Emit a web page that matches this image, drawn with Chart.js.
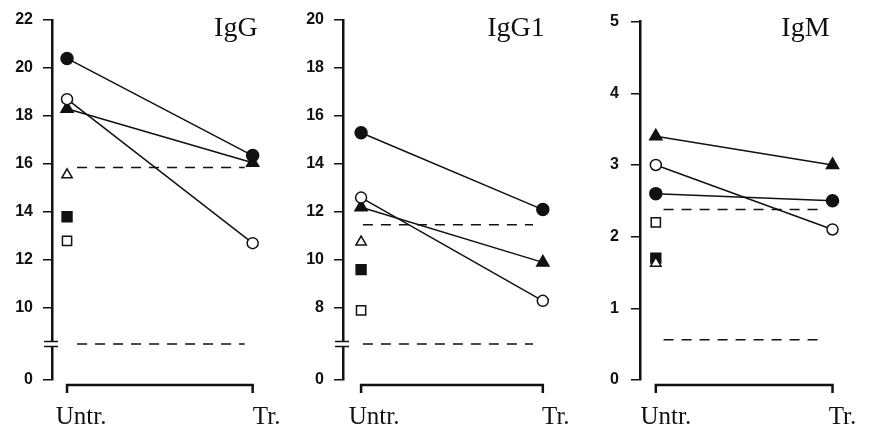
<!DOCTYPE html>
<html>
<head>
<meta charset="utf-8">
<script src="https://cdn.jsdelivr.net/npm/chart.js@4/dist/chart.umd.min.js"></script>
<style>
  html, body { margin: 0; padding: 0; background: #fff; }
  #wrap { position: relative; width: 869px; height: 432px; }
  canvas { position: absolute; top: 0; }
</style>
</head>
<body>
<div id="wrap">
  <canvas id="igg" width="290" height="432" style="left:0"></canvas>
  <canvas id="igg1" width="290" height="432" style="left:290px"></canvas>
  <canvas id="igm" width="289" height="432" style="left:580px"></canvas>
</div>
<script>
// categories
const xPositions = [0, 1];
const xLabels = ['Untr.', 'Tr.'];
const panelTitles = ['IgG', 'IgG1', 'IgM'];

// IgG (axis broken below 10, so the "0" tick sits at 7)
const iggFilledCircle = [20.4, 16.35];
const iggOpenCircle = [18.7, 12.7];
const iggFilledTriangle = [18.3, 16.05];
const iggOpenTriangle = [15.55];
const iggFilledSquare = [13.8];
const iggOpenSquare = [12.8];
const iggRefUpper = 15.85;
const iggRefLower = 8.5;
const iggRefSpan = [0.054, 0.957];
const iggTickValues = [7, 10, 12, 14, 16, 18, 20, 22];
const iggTickLabels = ['0', '10', '12', '14', '16', '18', '20', '22'];
const iggBreak = 8.5;

// IgG1 (axis broken below 8, "0" tick sits at 5)
const igg1FilledCircle = [15.3, 12.1];
const igg1OpenCircle = [12.6, 8.3];
const igg1FilledTriangle = [12.2, 9.9];
const igg1OpenTriangle = [10.75];
const igg1FilledSquare = [9.6];
const igg1OpenSquare = [7.9];
const igg1RefUpper = 11.47;
const igg1RefLower = 6.5;
const igg1RefSpan = [0.01, 0.946];
const igg1TickValues = [5, 8, 10, 12, 14, 16, 18, 20];
const igg1TickLabels = ['0', '8', '10', '12', '14', '16', '18', '20'];
const igg1Break = 6.5;

// IgM
const igmFilledTriangle = [3.4, 3.0];
const igmOpenCircle = [3.0, 2.1];
const igmFilledCircle = [2.6, 2.5];
const igmOpenSquare = [2.2];
const igmFilledSquare = [1.7];
const igmOpenTriangle = [1.63];
const igmRefUpper = 2.38;
const igmRefLower = 0.56;
const igmRefSpan = [0.044, 0.944];
const igmTickValues = [0, 1, 2, 3, 4, 5];
const igmTickLabels = ['0', '1', '2', '3', '4', '5'];

const ink = '#111';

function pts(values) {
  return values.map((v, i) => ({ x: xPositions[i], y: v }));
}

function series(values, style, filled, radius) {
  return {
    data: pts(values),
    showLine: values.length > 1,
    borderColor: ink,
    borderWidth: 1.5,
    pointStyle: style,
    pointRadius: radius,
    pointBackgroundColor: filled ? ink : '#fff',
    pointBorderColor: ink,
    pointBorderWidth: 1.5
  };
}

function refLine(value, span) {
  return {
    data: span.map(x => ({ x, y: value })),
    showLine: true,
    borderColor: ink,
    borderWidth: 1.5,
    borderDash: [10, 8],
    pointRadius: 0
  };
}

const axisDecor = {
  id: 'axisDecor',
  afterDraw(chart, args, opts) {
    const { ctx, chartArea, scales: { x, y } } = chart;
    const x0 = x.getPixelForValue(xPositions[0]);
    const x1 = x.getPixelForValue(xPositions[xPositions.length - 1]);
    ctx.save();
    ctx.strokeStyle = ink;

    // bracket under the two groups
    const by = chartArea.bottom + 5;
    ctx.lineWidth = 2.5;
    ctx.beginPath();
    ctx.moveTo(x0, by + 8);
    ctx.lineTo(x0, by);
    ctx.lineTo(x1, by);
    ctx.lineTo(x1, by + 8);
    ctx.stroke();

    // axis break
    if (opts.breakAt != null) {
      const py = y.getPixelForValue(opts.breakAt);
      const ax = chartArea.left;
      ctx.fillStyle = '#fff';
      ctx.fillRect(ax - 3, py - 2, 6, 4);
      ctx.lineWidth = 1.5;
      ctx.beginPath();
      ctx.moveTo(ax - 8, py - 2.5); ctx.lineTo(ax + 6, py - 2.5);
      ctx.moveTo(ax - 8, py + 2.5); ctx.lineTo(ax + 6, py + 2.5);
      ctx.stroke();
    }

    // panel title
    ctx.fillStyle = ink;
    ctx.font = '28px "Liberation Serif", "Times New Roman", serif';
    ctx.textAlign = 'right';
    ctx.textBaseline = 'alphabetic';
    ctx.fillText(opts.title, x1 + opts.titleDx, 36);
    ctx.restore();
  }
};

function makePanel(id, cfg) {
  const datasets = [
    series(cfg.filledCircle, 'circle', true, 6),
    series(cfg.openCircle, 'circle', false, 5.5),
    series(cfg.filledTriangle, 'triangle', true, 7),
    series(cfg.openTriangle, 'triangle', false, 6),
    series(cfg.filledSquare, 'rect', true, 7),
    series(cfg.openSquare, 'rect', false, 6.5),
    refLine(cfg.refUpper, cfg.refSpan),
    refLine(cfg.refLower, cfg.refSpan)
  ];

  return new Chart(document.getElementById(id), {
    type: 'scatter',
    data: { datasets },
    plugins: [axisDecor],
    options: {
      responsive: false,
      animation: false,
      layout: { padding: { top: 20, right: cfg.padRight, bottom: 0, left: 0 } },
      plugins: {
        legend: { display: false },
        tooltip: { enabled: false },
        axisDecor: { breakAt: cfg.breakAt, title: cfg.title, titleDx: cfg.titleDx }
      },
      scales: {
        x: {
          type: 'linear',
          min: cfg.xMin,
          max: cfg.xMax,
          afterBuildTicks: s => { s.ticks = xPositions.map(v => ({ value: v })); },
          afterFit: s => { s.height = 52; },
          ticks: {
            color: ink,
            font: { family: '"Liberation Serif", "Times New Roman", serif', size: 25 },
            padding: 22,
            labelOffset: cfg.labelOffset,
            maxRotation: 0,
            autoSkip: false,
            callback: (v, i) => xLabels[i]
          },
          grid: { display: false, drawTicks: false },
          border: { display: false }
        },
        y: {
          min: cfg.tickValues[0],
          max: cfg.tickValues[cfg.tickValues.length - 1],
          afterBuildTicks: s => { s.ticks = cfg.tickValues.map(v => ({ value: v })); },
          afterFit: s => { s.width = cfg.axisWidth; },
          ticks: {
            color: ink,
            font: { family: '"Liberation Sans", Arial, sans-serif', size: 16, weight: 'bold' },
            padding: cfg.tickPad,
            autoSkip: false,
            callback: (v, i) => cfg.tickLabels[i]
          },
          grid: { drawOnChartArea: false, drawTicks: true, tickLength: 9, color: ink, lineWidth: 1.5 },
          border: { display: true, color: ink, width: 2.5 }
        }
      }
    }
  });
}

makePanel('igg', {
  title: panelTitles[0], titleDx: 5,
  filledCircle: iggFilledCircle, openCircle: iggOpenCircle,
  filledTriangle: iggFilledTriangle, openTriangle: iggOpenTriangle,
  filledSquare: iggFilledSquare, openSquare: iggOpenSquare,
  refUpper: iggRefUpper, refLower: iggRefLower, refSpan: iggRefSpan,
  tickValues: iggTickValues, tickLabels: iggTickLabels, breakAt: iggBreak,
  axisWidth: 52, tickPad: 10, padRight: 20, xMin: -0.081, xMax: 1.091, labelOffset: 14
});

makePanel('igg1', {
  title: panelTitles[1], titleDx: 2,
  filledCircle: igg1FilledCircle, openCircle: igg1OpenCircle,
  filledTriangle: igg1FilledTriangle, openTriangle: igg1OpenTriangle,
  filledSquare: igg1FilledSquare, openSquare: igg1OpenSquare,
  refUpper: igg1RefUpper, refLower: igg1RefLower, refSpan: igg1RefSpan,
  tickValues: igg1TickValues, tickLabels: igg1TickLabels, breakAt: igg1Break,
  axisWidth: 53, tickPad: 10, padRight: 20, xMin: -0.0995, xMax: 1.0815, labelOffset: 13
});

makePanel('igm', {
  title: panelTitles[2], titleDx: -3,
  filledCircle: igmFilledCircle, openCircle: igmOpenCircle,
  filledTriangle: igmFilledTriangle, openTriangle: igmOpenTriangle,
  filledSquare: igmFilledSquare, openSquare: igmOpenSquare,
  refUpper: igmRefUpper, refLower: igmRefLower, refSpan: igmRefSpan,
  tickValues: igmTickValues, tickLabels: igmTickLabels, breakAt: null,
  axisWidth: 60, tickPad: 12, padRight: 9, xMin: -0.0895, xMax: 1.0895, labelOffset: 10
});
</script>
</body>
</html>
